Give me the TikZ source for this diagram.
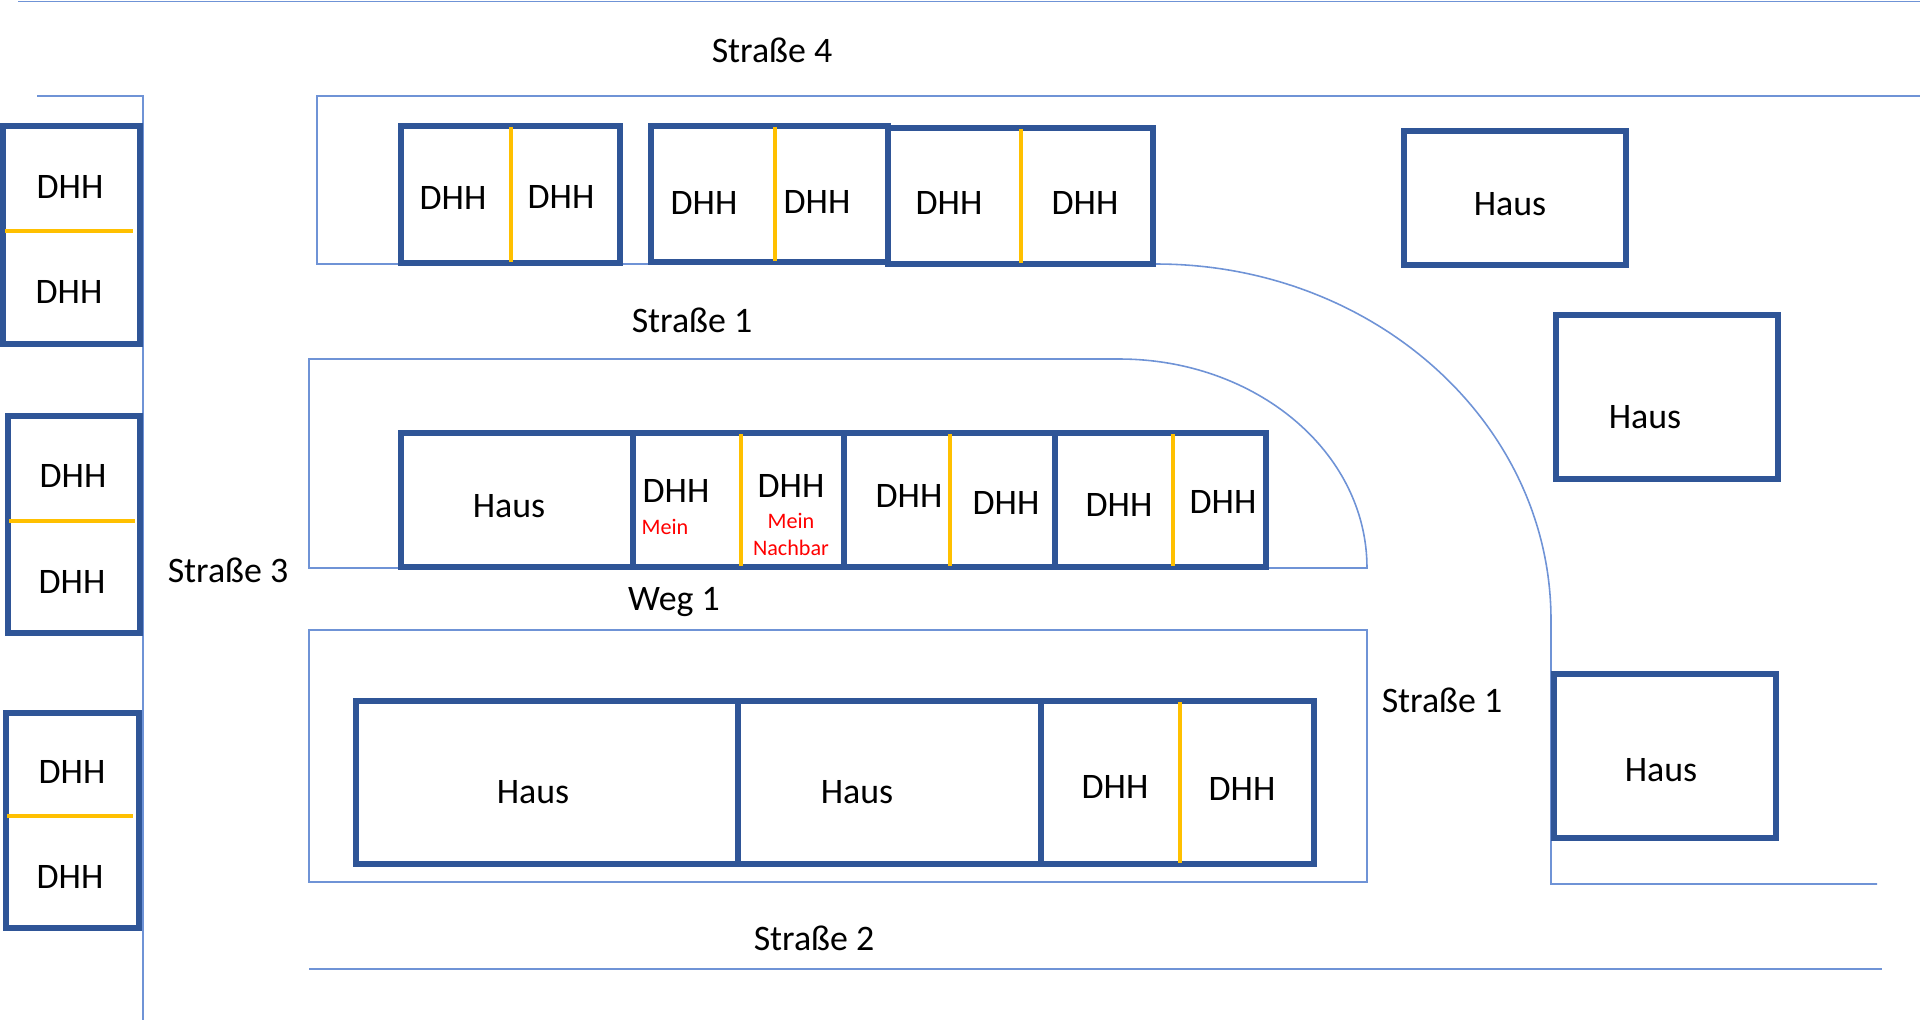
\documentclass[tikz,border=0pt]{standalone}
\usepackage{fontspec}
\setmainfont{Carlito}
\definecolor{roadblue}{HTML}{6F93D6}
\definecolor{houseblue}{HTML}{2F5597}
\definecolor{wallyellow}{HTML}{FFC000}
\tikzset{
    road/.style={draw=roadblue, line width=0.45pt},
    house/.style={draw=houseblue, line width=1.55pt},
    wall/.style={draw=wallyellow, line width=1.3pt},
    lbl/.style={font=\fontsize{10.2}{12}\selectfont, inner sep=0pt},
    note/.style={font=\fontsize{6.3}{7.7}\selectfont, text=red, align=center, inner sep=0pt},
}

\begin{document}
\begin{tikzpicture}[x=0.01cm, y=-0.01cm]
    \useasboundingbox (0,0) rectangle (1920,1020);

    % roads
    \draw[road] (18,1.5) -- (1920,1.5);
    \draw[road] (37,96) -- (143,96) -- (143,1020);
    \draw[road] (1920,96) -- (317,96) -- (317,264) -- (1156,264)
        .. controls (1374,264) and (1551,423) .. (1551,620) -- (1551,884) -- (1877,884);
    \draw[road] (309,568) -- (309,359) -- (1119,359)
        .. controls (1256,359) and (1367,452) .. (1367,568) -- cycle;
    \draw[road] (309,630) rectangle (1367,882);
    \draw[road] (309,969) -- (1882,969);

    % houses on the left
    \draw[house] (3,126) rectangle (140,344);
    \draw[house] (8,416) rectangle (140,633);
    \draw[house] (6,713) rectangle (139,928);
    \draw[wall] (5,231) -- (133,231);
    \draw[wall] (9,521) -- (135,521);
    \draw[wall] (7,816) -- (133,816);

    % houses at Strasse 4
    \draw[house] (401,126) rectangle (620,263);
    \draw[house] (651,126) rectangle (888,262);
    \draw[house] (888,128) rectangle (1153,264);
    \draw[wall] (511,127) -- (511,262);
    \draw[wall] (775,127) -- (775,261);
    \draw[wall] (1021,129) -- (1021,263);

    % houses on the right
    \draw[house] (1404,131) rectangle (1626,265);
    \draw[house] (1556,315) rectangle (1778,479);
    \draw[house] (1554,674) rectangle (1776,838);

    % houses at Weg 1
    \draw[house] (401,433) rectangle (1266,567);
    \draw[house] (633,433) -- (633,567);
    \draw[house] (844,433) -- (844,567);
    \draw[house] (1055,433) -- (1055,567);
    \draw[wall] (741,434) -- (741,566);
    \draw[wall] (950,434) -- (950,566);
    \draw[wall] (1173,434) -- (1173,566);

    % houses at Strasse 2
    \draw[house] (356,701) rectangle (1314,864);
    \draw[house] (738,701) -- (738,864);
    \draw[house] (1041,701) -- (1041,864);
    \draw[wall] (1180,702) -- (1180,863);

    % street names
    \node[lbl] (s4) at (772,50) {Straße 4};
    \node[lbl] (s1top) at (692,320) {Straße 1};
    \node[lbl] (s1right) at (1442,700) {Straße 1};
    \node[lbl] (s3) at (228,570) {Straße 3};
    \node[lbl] (s2) at (814,938) {Straße 2};
    \node[lbl] (weg) at (674,602) {Weg 1};

    % labels left column
    \node[lbl] (l1a) at (70,187) {DHH};
    \node[lbl] (l1b) at (69,292) {DHH};
    \node[lbl] (l2a) at (73,476) {DHH};
    \node[lbl] (l2b) at (72,582) {DHH};
    \node[lbl] (l3a) at (72,772) {DHH};
    \node[lbl] (l3b) at (70,877) {DHH};

    % labels top row
    \node[lbl] (t1a) at (453,198) {DHH};
    \node[lbl] (t1b) at (561,197) {DHH};
    \node[lbl] (t2a) at (704,203) {DHH};
    \node[lbl] (t2b) at (817,202) {DHH};
    \node[lbl] (t3a) at (949,203) {DHH};
    \node[lbl] (t3b) at (1085,203) {DHH};

    % labels right
    \node[lbl] (r1) at (1510,204) {Haus};
    \node[lbl] (r2) at (1645,417) {Haus};
    \node[lbl] (r3) at (1661,770) {Haus};

    % labels middle row
    \node[lbl] (m0) at (509,506) {Haus};
    \node[lbl] (m1a) at (676,491) {DHH};
    \node[note] (mein) at (665,527) {Mein};
    \node[lbl] (m1b) at (791,486) {DHH};
    \node[note] (nachbar) at (791,534) {Mein\\Nachbar};
    \node[lbl] (m2a) at (909,496) {DHH};
    \node[lbl] (m2b) at (1006,503) {DHH};
    \node[lbl] (m3a) at (1119,505) {DHH};
    \node[lbl] (m3b) at (1223,502) {DHH};

    % labels bottom row
    \node[lbl] (b1) at (533,792) {Haus};
    \node[lbl] (b2) at (857,792) {Haus};
    \node[lbl] (b3a) at (1115,787) {DHH};
    \node[lbl] (b3b) at (1242,789) {DHH};
\end{tikzpicture}
\end{document}
